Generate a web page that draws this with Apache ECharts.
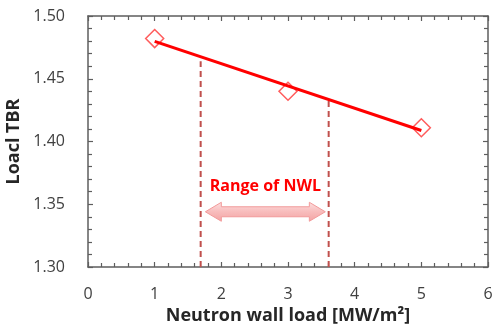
<!DOCTYPE html>
<html>
<head>
<meta charset="utf-8">
<script src="https://cdn.jsdelivr.net/npm/echarts@6/dist/echarts.min.js"></script>
<style>html,body{margin:0;padding:0;background:#fff}#c{width:494px;height:326px}</style>
</head>
<body>
<div id="c"></div>
<script>
// Data
const nwl = [1, 3, 5];
const tbr = [1.482, 1.440, 1.411];
const trendX = [1, 5];
const trendY = [1.4798, 1.4088];
const rangeLeft = [[1.69, 1.30], [1.69, 1.464]];
const rangeRight = [[3.61, 1.30], [3.61, 1.433]];
const arrowSpan = [1.76, 3.56];
const arrowY = 1.344;
const rangeLabel = 'Range of NWL';
const rangeLabelPos = [2.66, 1.3645];
const xTicks = [0, 1, 2, 3, 4, 5, 6];
const yTicks = [1.30, 1.35, 1.40, 1.45, 1.50];

const FONT = '"Open Sans", Lato, sans-serif';
const axisGray = '#5e5e5e';
const chart = echarts.init(document.getElementById('c'));

const baseAxis = {
  type: 'value',
  axisLine: { show: true, onZero: false, lineStyle: { color: axisGray, width: 1.5 } },
  axisTick: { show: true, inside: true, length: 5, lineStyle: { color: axisGray, width: 1.2 } },
  minorTick: { show: true, splitNumber: 5, length: 4, lineStyle: { color: axisGray, width: 1.2 } },
  splitLine: { show: false },
  minorSplitLine: { show: false }
};

chart.setOption({
  animation: false,
  grid: { left: 88, right: 6, top: 16, bottom: 59, containLabel: false, outerBoundsMode: 'none' },
  xAxis: [
    Object.assign({}, baseAxis, {
      min: xTicks[0], max: xTicks[xTicks.length - 1], interval: 1,
      position: 'bottom',
      axisLabel: { margin: 19, fontFamily: FONT, fontSize: 16, color: '#404040',
        formatter: v => xTicks.includes(v) ? String(v) : '' },
      name: 'Neutron wall load [MW/m²]', nameLocation: 'middle', nameGap: 37,
      nameTextStyle: { fontFamily: FONT, fontSize: 18, fontWeight: 'bold', color: '#262626' }
    }),
    Object.assign({}, baseAxis, {
      min: xTicks[0], max: xTicks[xTicks.length - 1], interval: 1,
      position: 'top', axisLabel: { show: false }
    })
  ],
  yAxis: [
    Object.assign({}, baseAxis, {
      min: yTicks[0], max: yTicks[yTicks.length - 1], interval: 0.05,
      position: 'left',
      axisLabel: { margin: 23, fontFamily: FONT, fontSize: 16, color: '#404040',
        formatter: v => v.toFixed(2) },
      name: 'Loacl TBR', nameLocation: 'middle', nameGap: 60, nameRotate: 90,
      nameTextStyle: { fontFamily: FONT, fontSize: 18, fontWeight: 'bold', color: '#262626' }
    }),
    Object.assign({}, baseAxis, {
      min: yTicks[0], max: yTicks[yTicks.length - 1], interval: 0.05,
      position: 'right', axisLabel: { show: false }
    })
  ],
  series: [
    {
      type: 'line', data: rangeLeft, symbol: 'none', silent: true,
      lineStyle: { color: '#c0504d', width: 2, type: [6, 4] }
    },
    {
      type: 'line', data: rangeRight, symbol: 'none', silent: true,
      lineStyle: { color: '#c0504d', width: 2, type: [6, 4] }
    },
    {
      type: 'line', data: trendX.map((x, i) => [x, trendY[i]]), symbol: 'none',
      lineStyle: { color: '#ff0000', width: 3 }
    },
    {
      type: 'scatter', data: nwl.map((x, i) => [x, tbr[i]]),
      symbol: 'diamond', symbolSize: 18,
      itemStyle: { color: 'rgba(255,255,255,0)', borderColor: '#ff3333', borderWidth: 1.5 }
    },
    {
      type: 'custom',
      data: [[arrowSpan[0], arrowSpan[1], arrowY]],
      renderItem: function (params, api) {
        const p1 = api.coord([api.value(0), api.value(2)]);
        const p2 = api.coord([api.value(1), api.value(2)]);
        const lp = api.coord(rangeLabelPos);
        const y = p1[1], hl = 16, hh = 9.5, sh = 5;
        const x1 = p1[0], x2 = p2[0];
        const pts = [
          [x1, y], [x1 + hl, y - hh], [x1 + hl, y - sh], [x2 - hl, y - sh], [x2 - hl, y - hh],
          [x2, y], [x2 - hl, y + hh], [x2 - hl, y + sh], [x1 + hl, y + sh], [x1 + hl, y + hh]
        ];
        return {
          type: 'group',
          children: [
            {
              type: 'polygon', shape: { points: pts },
              style: {
                fill: new echarts.graphic.LinearGradient(0, 0, 0, 1, [
                  { offset: 0, color: '#fde0e0' },
                  { offset: 0.5, color: '#f8bcbc' },
                  { offset: 1, color: '#f3a3a3' }
                ]),
                stroke: '#f29a9a', lineWidth: 1
              }
            },
            {
              type: 'text', x: lp[0], y: lp[1],
              style: {
                text: rangeLabel, fill: '#ff0000', font: 'bold 16px ' + FONT,
                align: 'center', verticalAlign: 'middle'
              }
            }
          ]
        };
      }
    }
  ]
});
</script>
</body>
</html>
